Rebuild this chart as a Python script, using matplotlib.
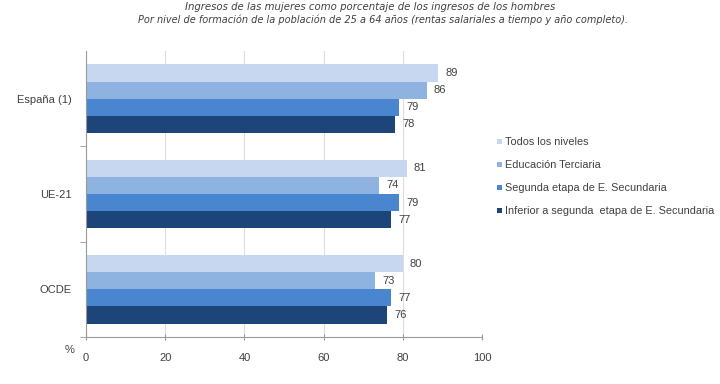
import numpy as np
import matplotlib
matplotlib.use("Agg")
import matplotlib.pyplot as plt
from matplotlib.patches import Patch

regiones = ["España (1)", "UE-21", "OCDE"]
niveles = ["Todos los niveles", "Educación Terciaria",
           "Segunda etapa de E. Secundaria",
           "Inferior a segunda  etapa de E. Secundaria"]
todos = [89, 81, 80]
terciaria = [86, 74, 73]
segunda = [79, 79, 77]
inferior = [78, 77, 76]
series = [todos, terciaria, segunda, inferior]
colores = ["#c6d7ef", "#8fb3e0", "#4a86cf", "#1d4579"]
ticks_x = [0, 20, 40, 60, 80, 100]

plt.rcParams['font.family'] = ['Liberation Sans', 'DejaVu Sans']
txt = "#404040"

fig = plt.figure(figsize=(7.2, 3.84), dpi=100)
ax = fig.add_axes([86/720, 1 - 337/384, (482 - 86)/720, (337 - 51)/384])

y = np.arange(len(regiones))
h = 0.18
for i, (vals, c) in enumerate(zip(series, colores)):
    pos = y + (i - 1.5) * h
    ax.barh(pos, vals, height=h, color=c, zorder=2)
    for p, v in zip(pos, vals):
        ax.text(v + 1.8, p, str(v), va="center", ha="left", fontsize=8, color=txt)

ax.set_xlim(0, 100)
ax.set_ylim(2.5, -0.5)
ax.set_xticks(ticks_x)
ax.set_xticklabels([str(t) for t in ticks_x], fontsize=8, color=txt)
ax.tick_params(axis="x", direction="inout", length=5, color="#999999", pad=9)
ax.set_yticks(y)
ax.set_yticklabels(regiones, fontsize=8, color=txt)
ax.set_yticks([0.5, 1.5, 2.5], minor=True)
ax.tick_params(axis="y", which="major", length=0, pad=10)
ax.tick_params(axis="y", which="minor", length=4, color="#999999")
ax.grid(axis="x", color="#dddddd", lw=0.8, zorder=0)
for s in ["top", "right"]:
    ax.spines[s].set_visible(False)
for s in ["left", "bottom"]:
    ax.spines[s].set_color("#999999")

fig.text(65/720, 1 - 350/384, "%", fontsize=8, color=txt, ha="left", va="center")

fig.text(370/720, 1 - 7/384, "Ingresos de las mujeres como porcentaje de los ingresos de los hombres",
         fontsize=7.3, style="italic", color=txt, ha="center", va="center", family="DejaVu Sans")
fig.text(383/720, 1 - 20/384,
         "Por nivel de formación de la población de 25 a 64 años (rentas salariales a tiempo y año completo).",
         fontsize=7.0, style="italic", color=txt, ha="center", va="center", family="DejaVu Sans")

handles = [Patch(facecolor=c, edgecolor="none") for c in colores]
fig.legend(handles, niveles, loc="upper left", bbox_to_anchor=(493/720, 1 - 133/384),
           frameon=False, fontsize=7.8, handlelength=0.45, handleheight=0.45,
           handletextpad=0.3, labelspacing=1.2, labelcolor=txt, borderaxespad=0)

fig.savefig("out.png", dpi=100, facecolor="white")
